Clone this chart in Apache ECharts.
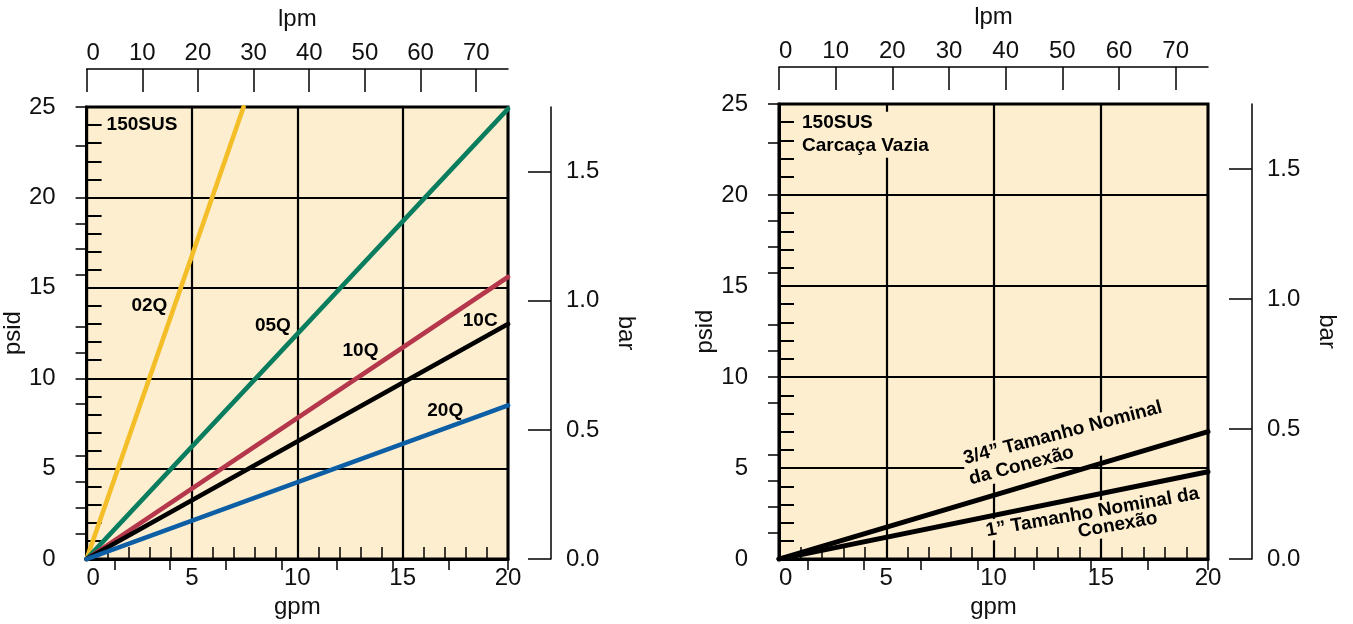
<!DOCTYPE html>
<html><head><meta charset="utf-8">
<script src="https://cdn.jsdelivr.net/npm/echarts@6/dist/echarts.min.js"></script>
<style>html,body{margin:0;padding:0;background:#fff}#c{width:1353px;height:624px}</style>
</head><body><div id="c"></div>
<script>
// ---------------- data ----------------
const GPM_MAX = 20;
const PSID_MAX = 25;
const LPM_PER_GPM = 3.785411784;
const BAR_MAX = 1.75;

const lpmMajorTicks = [0, 10, 20, 30, 40, 50, 60, 70];
const lpmMinorTicks = [5, 15, 25, 35, 45, 55, 65, 75.708];
const barMajorTicks = [0, 0.5, 1.0, 1.5];
const barMinorTicks = [0.1, 0.2, 0.3, 0.4, 0.6, 0.7, 0.8, 0.9, 1.1, 1.2, 1.3, 1.4, 1.6, 1.75];

// left chart: 150SUS elements (gpm, psid) endpoints
const elementNames = ['02Q', '05Q', '10Q', '10C', '20Q'];
const gpm02Q = [0, 7.45]; const psid02Q = [0, 25];
const gpm05Q = [0, 20];   const psid05Q = [0, 24.9];
const gpm10Q = [0, 20];   const psid10Q = [0, 15.6];
const gpm10C = [0, 20];   const psid10C = [0, 13.0];
const gpm20Q = [0, 20];   const psid20Q = [0, 8.5];

// right chart: empty housing
const housingNames = ['3/4” Tamanho Nominal da Conexão', '1” Tamanho Nominal da Conexão'];
const gpmHousing34 = [0, 20]; const psidHousing34 = [0, 7.0];
const gpmHousing1 = [0, 20];  const psidHousing1 = [0, 4.8];

// ---------------- style / layout ----------------
const FONT = '"Liberation Sans", Arial, Helvetica, sans-serif';
const INK = '#111';
const PLOT_BG = '#FDEED0';
const grids = [
  { left: 85, top: 107, width: 423, height: 454, topOffset: 38, rightOffset: 43 },
  { left: 779, top: 104, width: 429, height: 459, topOffset: 37, rightOffset: 44 }
];
const tickFont = { fontSize: 24, color: INK, fontFamily: FONT };

const zip = (xs, ys) => xs.map((x, i) => [x, ys[i]]);

const xAxes = [], yAxes = [];
grids.forEach((g, gi) => {
  xAxes.push({
    gridIndex: gi, type: 'value', position: 'bottom', min: 0, max: GPM_MAX, interval: 5,
    axisLine: { show: true, onZero: false, lineStyle: { color: '#000', width: 3 } },
    axisTick: { show: true, inside: true, length: 12, lineStyle: { color: '#000', width: 1.5 } },
    minorTick: { show: true, splitNumber: 5, length: 12, lineStyle: { color: '#000', width: 1.5 } },
    splitLine: { show: true, lineStyle: { color: '#000', width: 2.2 } },
    axisLabel: Object.assign({ margin: 7, alignMinLabel: 'left' }, tickFont),
    name: 'gpm', nameLocation: 'middle', nameGap: 32, nameTextStyle: tickFont
  });
  xAxes.push({
    gridIndex: gi, type: 'value', position: 'top', offset: g.topOffset, min: 0, max: GPM_MAX * LPM_PER_GPM,
    axisLine: { show: true, onZero: false, lineStyle: { color: '#000', width: 1.5 } },
    axisTick: { show: true, inside: true, length: 23, customValues: lpmMajorTicks, lineStyle: { color: '#000', width: 1.5 } },
    axisLabel: Object.assign({ margin: 4, customValues: lpmMajorTicks, alignMinLabel: 'left' }, tickFont),
    splitLine: { show: false },
    name: 'lpm', nameLocation: 'middle', nameGap: 38, nameTextStyle: tickFont
  });
  xAxes.push({
    gridIndex: gi, type: 'value', position: 'top', offset: g.topOffset, min: 0, max: GPM_MAX * LPM_PER_GPM,
    axisLine: { show: false },
    axisTick: { show: true, inside: true, length: 11, customValues: lpmMinorTicks, lineStyle: { color: '#000', width: 1.5 } },
    axisLabel: { show: false }, splitLine: { show: false }
  });

  yAxes.push({
    gridIndex: gi, type: 'value', position: 'left', min: 0, max: PSID_MAX, interval: 5,
    axisLine: { show: true, onZero: false, lineStyle: { color: '#000', width: 3 } },
    axisTick: { show: true, inside: true, length: 15, lineStyle: { color: '#000', width: 2 } },
    minorTick: { show: true, splitNumber: 5, length: 15, lineStyle: { color: '#000', width: 2 } },
    splitLine: { show: true, lineStyle: { color: '#000', width: 2.2 } },
    axisLabel: Object.assign({ margin: 31 }, tickFont),
    name: 'psid', nameLocation: 'middle', nameRotate: 90, nameGap: 50, nameTextStyle: tickFont
  });
  yAxes.push({
    gridIndex: gi, type: 'value', position: 'right', offset: g.rightOffset, min: 0, max: BAR_MAX,
    axisLine: { show: true, onZero: false, lineStyle: { color: '#000', width: 1.5 } },
    axisTick: { show: true, inside: true, length: 23, customValues: barMajorTicks, lineStyle: { color: '#000', width: 1.5 } },
    axisLabel: Object.assign({ margin: 15, customValues: barMajorTicks, formatter: v => Number(v).toFixed(1) }, tickFont),
    splitLine: { show: false },
    name: 'bar', nameLocation: 'middle', nameRotate: -90, nameGap: 63, nameTextStyle: tickFont
  });
  yAxes.push({
    gridIndex: gi, type: 'value', position: 'right', offset: g.rightOffset, min: 0, max: BAR_MAX,
    axisLine: { show: false },
    axisTick: { show: true, inside: true, length: 11, customValues: barMinorTicks, lineStyle: { color: '#000', width: 1.5 } },
    axisLabel: { show: false }, splitLine: { show: false }
  });
});

function lineSeries(name, gi, xs, ys, color, width) {
  return {
    type: 'line', name, xAxisIndex: gi * 3, yAxisIndex: gi * 3,
    data: zip(xs, ys), symbol: 'none', silent: true, z: 3,
    lineStyle: { color, width, cap: 'round' }
  };
}

const series = [
  lineSeries(elementNames[0], 0, gpm02Q, psid02Q, '#F4BE28', 4.6),
  lineSeries(elementNames[1], 0, gpm05Q, psid05Q, '#0A7D5F', 4.6),
  lineSeries(elementNames[2], 0, gpm10Q, psid10Q, '#B5374B', 4.6),
  lineSeries(elementNames[3], 0, gpm10C, psid10C, '#000000', 4.6),
  lineSeries(elementNames[4], 0, gpm20Q, psid20Q, '#0C5FA5', 4.6),
  lineSeries(housingNames[0], 1, gpmHousing34, psidHousing34, '#000000', 5),
  lineSeries(housingNames[1], 1, gpmHousing1, psidHousing1, '#000000', 5)
];

const chart = echarts.init(document.getElementById('c'), null, { renderer: 'canvas' });
chart.setOption({
  animation: false,
  backgroundColor: '#ffffff',
  grid: grids.map(g => ({
    left: g.left, top: g.top, width: g.width, height: g.height,
    show: true, backgroundColor: PLOT_BG, borderColor: '#000', borderWidth: 3
  })),
  xAxis: xAxes,
  yAxis: yAxes,
  series
});

// annotations (placed in data coordinates gpm/psid)
const annotations = [
  { grid: 0, text: '150SUS', at: [0.95, 24.0], align: 'left' },
  { grid: 0, text: '02Q', at: [2.98, 14.0] },
  { grid: 0, text: '05Q', at: [8.84, 12.9] },
  { grid: 0, text: '10Q', at: [13.0, 11.5] },
  { grid: 0, text: '10C', at: [18.68, 13.16] },
  { grid: 0, text: '20Q', at: [17.02, 8.2] },
  { grid: 1, text: '150SUS\nCarcaça Vazia', at: [0.98, 23.31], align: 'left', bg: true, lineHeight: 23 },
  { grid: 1, text: '3/4\u201D Tamanho Nominal\nda Conexão', at: [8.66, 4.91], align: 'left', rotate: 14.7, bg: true, lineHeight: 21 },
  { grid: 1, text: '1\u201D Tamanho Nominal da', at: [14.62, 2.57], rotate: 10, bg: true },
  { grid: 1, text: 'Conexão', at: [15.79, 1.87], rotate: 10, bg: true }
];

const graphics = annotations.map(a => {
  const p = chart.convertToPixel({ xAxisIndex: a.grid * 3, yAxisIndex: a.grid * 3 }, a.at);
  return {
    type: 'text', x: p[0], y: p[1], z: 1,
    rotation: (a.rotate || 0) * Math.PI / 180,
    silent: true,
    style: {
      text: a.text, fontSize: 19, fontWeight: 'bold', fontFamily: FONT, fill: '#000',
      align: a.align || 'center', verticalAlign: 'middle',
      lineHeight: a.lineHeight || 21,
      backgroundColor: a.bg ? PLOT_BG : null,
      padding: a.bg ? [0, 2] : 0
    }
  };
});
chart.setOption({ graphic: graphics });
</script>
</body></html>
